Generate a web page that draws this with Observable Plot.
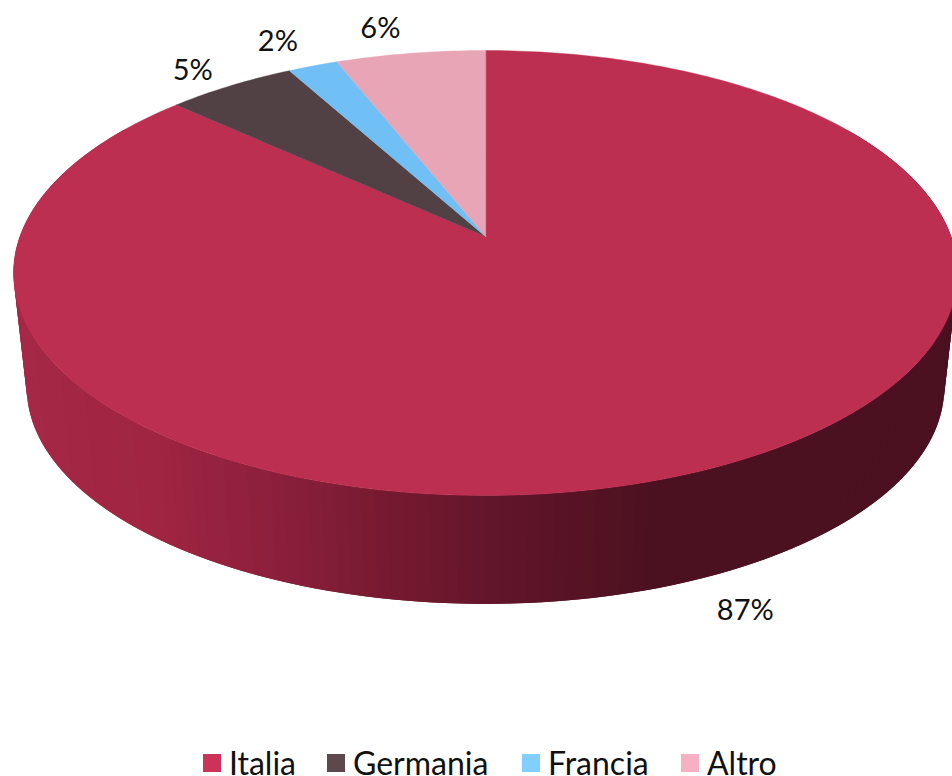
<!DOCTYPE html>
<html><head><meta charset="utf-8">
<script src="https://cdn.jsdelivr.net/npm/d3@7"></script>
<script src="https://cdn.jsdelivr.net/npm/@observablehq/plot@0.6"></script>
<style>
html,body{margin:0;padding:0;background:#fff;overflow:hidden}
#chart{width:952px;height:776px;overflow:hidden;font-family:Lato,sans-serif}
#chart svg{display:block}
.lg{display:flex;height:31px;color:#111;font-size:32px;line-height:36px;font-weight:400;white-space:nowrap}
.lg span.i{display:flex;align-items:center}
.lg span.s{display:inline-block;width:18px;height:18px;margin-right:8px}
</style></head><body><div id="chart"></div>
<script>
const categories = ["Italia","Germania","Francia","Altro"];
const shares = [86.8,5.2,2,6];
const topColors = ["#bd2f50","#514044","#70bff5","#e7a5b6"];
const legendColors = ["#cc3358","#5c484d","#80cfff","#f7b0c3"];
const wallStops = [[20,"#a52847"],[150,"#a02542"],[280,"#8a1f3b"],[400,"#74192f"],[500,"#62152b"],[650,"#4c1120"],[952,"#4b1120"]];

const k = 0.1641, W = 952, H = 745;
const ax = 465.6, ay = 216.5, cx = 485, cy = 236;
// projected unit-disc position at a turn fraction clockwise from the top
const proj = (f, r = 1) => {
  const t = f * 2 * Math.PI, u = Math.sin(t) * r, v = Math.cos(t) * r, d = 1 + k * v;
  return [u / d, v / d];
};
const under = ([x, y]) => [0.972 * x, 0.972 * y - 0.5344];
const xScale = {domain: [-cx / ax, (W - cx) / ax], range: [0, W]};
const yScale = {domain: [(cy - H) / ay, cy / ay], range: [H, 0]};
const pxOf = x => cx + ax * x;
const wallColor = d3.scaleLinear().domain(wallStops.map(d => d[0])).range(wallStops.map(d => d[1]));

// Wall: facets round the front of the disc, painted so each overlaps the next
const wall = [];
const nFacets = 170;
const step = 0.68 / nFacets;
d3.range(nFacets).forEach(i => {
  const f0 = 0.16 + i * step, f1 = 0.16 + (i + 1) * step, fEnd = i < nFacets - 1 ? f1 + step : f1;
  const a = proj(f0), b = proj(f1), c = proj(fEnd);
  const fill = wallColor(pxOf((a[0] + b[0]) / 2));
  [a, c, under(c), under(a)].forEach(p => wall.push({x: p[0], y: p[1], key: i, fill}));
});

// Top face slices
const total = d3.sum(shares);
let acc = 0;
const slices = [], labels = [];
const labelOffsets = [[39, 141], [-38, -15], [-35, -24], [-30, -25]];
categories.forEach((c, i) => {
  const f0 = acc / total, f1 = (acc + shares[i]) / total;
  const n = Math.max(4, Math.ceil((f1 - f0) * 360));
  slices.push({x: 0, y: 0, key: c, fill: topColors[i]});
  d3.range(n + 1).forEach(j => {
    const p = proj(f0 + (f1 - f0) * j / n);
    slices.push({x: p[0], y: p[1], key: c, fill: topColors[i]});
  });
  const m = proj((f0 + f1) / 2);
  labels.push({x: m[0], y: m[1], text: Math.round(shares[i]) + "%", dx: labelOffsets[i][0], dy: labelOffsets[i][1]});
  acc += shares[i];
});

const plot = Plot.plot({
  width: W, height: H, margin: 0, style: {background: "transparent"},
  x: {...xScale, axis: null}, y: {...yScale, axis: null},
  marks: [
    Plot.line(wall, {x: "x", y: "y", z: "key", fill: "fill", curve: "linear-closed", stroke: null}),
    Plot.line(slices, {x: "x", y: "y", z: "key", fill: "fill", stroke: "fill", strokeWidth: 0.4, curve: "linear-closed"}),
    ...labels.map(l => Plot.text([l], {x: "x", y: "y", text: "text", dx: l.dx, dy: l.dy, fontSize: 29, fontWeight: 400, fill: "#111", fontFamily: "Lato"}))
  ]
});
const root = document.getElementById("chart");
root.appendChild(plot);

const lg = document.createElement("div");
lg.className = "lg";
const starts = [203, 327, 522, 681];
categories.forEach((c, i) => {
  const item = document.createElement("span");
  item.className = "i";
  item.style.position = "absolute";
  item.style.left = starts[i] + "px";
  const s = document.createElement("span");
  s.className = "s";
  s.style.background = legendColors[i];
  item.appendChild(s);
  item.appendChild(document.createTextNode(c));
  lg.appendChild(item);
});
root.appendChild(lg);
</script></body></html>
